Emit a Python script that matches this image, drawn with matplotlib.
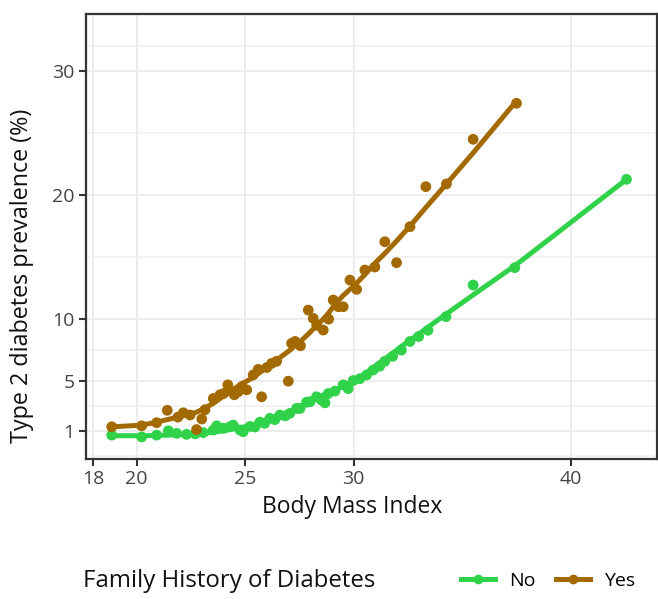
import numpy as np
import matplotlib
matplotlib.use('Agg')
import matplotlib.pyplot as plt
from matplotlib.lines import Line2D

# BMI vs type 2 diabetes prevalence, by family history

# Family history: No
bmi_no = [18.85, 20.23, 20.92, 21.46, 21.84, 22.3, 22.7, 23.07, 23.53, 23.69,
          24.0, 24.3, 24.45, 24.76, 24.91, 25.22, 25.45, 25.68, 25.9, 26.14,
          26.37, 26.6, 26.85, 27.06, 27.37, 27.53, 27.83, 27.99, 28.29, 28.5,
          28.68, 28.83, 29.14, 29.52, 29.75, 29.98, 30.29, 30.6, 30.9, 31.2,
          31.44, 31.8, 32.2, 32.6, 33.0, 33.43, 34.26, 35.51, 37.43, 42.58]
prev_no = [0.65, 0.5, 0.65, 1.0, 0.79, 0.71, 0.75, 0.85, 1.06, 1.4,
           1.2, 1.32, 1.46, 1.06, 0.92, 1.35, 1.3, 1.7, 1.6, 2.0,
           1.9, 2.27, 2.2, 2.4, 2.8, 2.8, 3.3, 3.34, 3.74, 3.5,
           3.25, 4.0, 4.2, 4.7, 4.4, 5.05, 5.2, 5.5, 5.9, 6.2,
           6.6, 7.0, 7.5, 8.2, 8.6, 9.1, 10.2, 12.75, 14.15, 21.27]
fit_no = [0.6, 0.6, 0.62, 0.65, 0.67, 0.7, 0.73, 0.78, 0.88, 0.92,
          1.0, 1.1, 1.15, 1.25, 1.3, 1.42, 1.52, 1.65, 1.78, 1.92,
          2.07, 2.22, 2.4, 2.55, 2.8, 2.95, 3.2, 3.35, 3.6, 3.8,
          3.95, 4.05, 4.25, 4.6, 4.8, 5.0, 5.3, 5.7, 6.1, 6.5,
          6.8, 7.25, 7.8, 8.3, 8.8, 9.35, 10.4, 11.95, 14.3, 21.27]

# Family history: Yes
bmi_yes = [18.85, 20.23, 20.92, 21.41, 21.9, 22.15, 22.46, 22.76, 23.0, 23.15,
           23.53, 23.84, 24.0, 24.2, 24.5, 24.68, 24.84, 25.07, 25.37, 25.6,
           25.76, 26.0, 26.22, 26.45, 26.99, 27.14, 27.3, 27.55, 27.91, 28.14,
           28.3, 28.6, 28.85, 29.06, 29.3, 29.52, 29.83, 30.14, 30.52, 30.98,
           31.44, 31.98, 32.6, 33.33, 34.28, 35.51, 37.51]
prev_yes = [1.32, 1.4, 1.65, 2.65, 2.1, 2.45, 2.27, 1.1, 1.95, 2.7,
            3.6, 3.9, 4.0, 4.7, 3.9, 4.15, 4.55, 4.3, 5.5, 5.95,
            3.74, 6.1, 6.43, 6.6, 5.0, 8.05, 8.2, 7.85, 10.73, 10.06,
            9.5, 9.12, 10.0, 11.54, 11.0, 11.0, 13.15, 12.4, 13.96, 14.2,
            16.24, 14.55, 17.45, 20.68, 20.9, 24.5, 27.4]
fit_yes = [1.32, 1.45, 1.7, 1.9, 2.1, 2.2, 2.35, 2.5, 2.7, 2.85,
           3.2, 3.6, 3.8, 4.0, 4.4, 4.6, 4.8, 5.0, 5.3, 5.6,
           5.8, 6.1, 6.4, 6.7, 7.4, 7.6, 7.9, 8.2, 8.8, 9.2,
           9.5, 10.0, 10.5, 11.0, 11.5, 11.9, 12.4, 12.9, 13.6, 14.5,
           15.3, 16.3, 17.5, 19.0, 20.9, 23.4, 27.6]

x_ticks = [18, 20, 25, 30, 40]
y_ticks = [1, 5, 10, 20, 30]
y_minor = [-1, 3, 7.5, 15, 25, 32]

green = '#30d24a'
brown = '#a26a00'
plt.rcParams['font.family'] = 'Open Sans'

fig = plt.figure(figsize=(6.58, 5.99), dpi=100)
ax = fig.add_axes([85.7 / 658, 1 - 459.3 / 599, 571.6 / 658, 445.3 / 599])

ax.plot(bmi_no, fit_no, color=green, lw=3.6, solid_capstyle='round', zorder=3)
ax.scatter(bmi_no, prev_no, s=60, color=green, edgecolors='none', zorder=4)
ax.plot(bmi_yes, fit_yes, color=brown, lw=3.6, solid_capstyle='round', zorder=3)
ax.scatter(bmi_yes, prev_yes, s=60, color=brown, edgecolors='none', zorder=4)

ax.set_xlim(17.65, 44.0)
ax.set_ylim(-1.3, 34.6)
ax.set_xticks(x_ticks)
ax.set_yticks(y_ticks)
ax.set_yticks(y_minor, minor=True)
ax.grid(True, which='major', color='#ebebeb', lw=1.3, zorder=0)
ax.grid(True, which='minor', axis='y', color='#f0f0f0', lw=1.1, zorder=0)
ax.set_axisbelow(True)

for s in ax.spines.values():
    s.set_color('#333333')
    s.set_linewidth(1.6)
ax.tick_params(which='major', length=5, width=1.5, color='#333333',
               labelsize=14, labelcolor='#444444', pad=3)
ax.tick_params(which='minor', length=0)

fig.text(352 / 658, 1 - 507 / 599, 'Body Mass Index', ha='center', va='center',
         fontsize=16.5, color='#111111')
fig.text(22 / 658, 1 - 276 / 599, 'Type 2 diabetes prevalence (%)', ha='center',
         va='center', rotation=90, fontsize=16.8, color='#111111')

# legend row at the bottom
fig.text(83 / 658, 1 - 581 / 599, 'Family History of Diabetes', ha='left',
         va='center', fontsize=17.3, color='#111111')
handles = [Line2D([], [], color=green, lw=3.6, marker='o', ms=6),
           Line2D([], [], color=brown, lw=3.6, marker='o', ms=6)]
fig.legend(handles, ['No', 'Yes'], loc='center left',
           bbox_to_anchor=(461 / 658, 1 - 581 / 599), ncol=2, frameon=False,
           fontsize=14, handlelength=1.75, handletextpad=0.75, columnspacing=1.0,
           borderpad=0, borderaxespad=0)

plt.savefig('out.png', dpi=100)
